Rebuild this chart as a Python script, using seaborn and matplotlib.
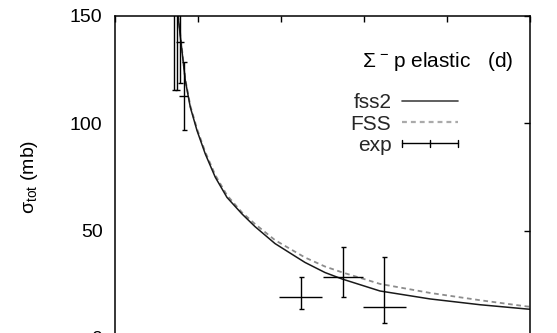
import numpy as np
import pandas as pd
import matplotlib
matplotlib.use("Agg")
import matplotlib.pyplot as plt
import seaborn as sns
from matplotlib.lines import Line2D
from matplotlib.legend_handler import HandlerBase

# ---------------- data ----------------
# model curves: momentum (MeV/c) vs total cross section (mb)
p_curve = [168, 176, 184.8, 190.8, 198.9, 208.9, 220.9, 235.0, 253.1, 268.8,
           292.9, 313.0, 329.1, 353.2, 373.7, 419.5, 479.8, 540.1, 596.7, 600]
s_fss2 = [165, 150, 119.9, 107.5, 96.6, 85.7, 74.9, 65.5, 57.8, 51.9,
          44.0, 39.1, 35.2, 30.5, 27.5, 21.9, 18.2, 15.5, 13.5, 13.4]
s_FSS = [165, 151, 120.5, 108.2, 97.4, 86.6, 75.9, 66.5, 58.5, 53.1,
         45.6, 41.1, 37.5, 33.3, 30.6, 25.2, 21.0, 17.6, 14.7, 14.6]

# experimental points
p_exp = [171.1, 174.8, 178.4, 182.8, 323.9, 374.5, 424.7]
s_exp = [170.0, 155.0, 137.7, 112.9, 19.1, 28.5, 14.6]
s_lo = [115.5, 115.5, 119.0, 96.9, 13.5, 19.2, 7.1]
s_hi = [225.0, 195.0, 156.0, 128.6, 28.4, 42.5, 37.8]
p_err = [2.5, 2.5, 5.0, 5.5, 25.7, 24.1, 26.2]

y_ticks = [0, 50, 100, 150]
x_ticks = [100, 200, 300, 400, 500, 600]
legend_labels = ["fss2", "FSS", "exp"]
title_text = "Σ$^{\\,-\\,}$p elastic   (d)"
y_label = "σ$_{\\mathrm{tot}}$ (mb)"

# ---------------- style ----------------
sns.set_theme(style="white")
plt.rcParams["font.family"] = ["Liberation Sans", "DejaVu Sans"]
plt.rcParams["mathtext.fontset"] = "custom"
plt.rcParams["mathtext.rm"] = "Liberation Sans"
plt.rcParams["mathtext.it"] = "Liberation Sans:italic"
plt.rcParams["mathtext.bf"] = "Liberation Sans:bold"
plt.rcParams["mathtext.sf"] = "Liberation Sans"

W, H = 557, 333
fig = plt.figure(figsize=(W / 100, H / 100), dpi=100)
ax = fig.add_axes([115 / W, 1 - 338 / H, 414.7 / W, 322 / H])

df = pd.DataFrame({"p": p_curve, "fss2": s_fss2, "FSS": s_FSS})
sns.lineplot(data=df, x="p", y="FSS", ax=ax, color="#8c8c8c", lw=1.3,
             linestyle=(0, (2.6, 2.0)), sort=False, estimator=None)
sns.lineplot(data=df, x="p", y="fss2", ax=ax, color="#1a1a1a", lw=1.1,
             sort=False, estimator=None)

pe = np.array(p_exp)
se = np.array(s_exp)
yerr = [se - np.array(s_lo), np.array(s_hi) - se]
ax.errorbar(pe, se, yerr=yerr, fmt="none", ecolor="black", elinewidth=1.0,
            capsize=1.8, capthick=1.0)
ax.errorbar(pe, se, xerr=p_err, fmt="none", ecolor="black", elinewidth=1.0,
            capsize=0)

ax.set_xlim(100, 600)
ax.set_ylim(0, 150)
ax.set_xticks(x_ticks)
ax.set_yticks(y_ticks)
ax.tick_params(direction="in", top=True, right=True, length=4, width=1,
               labelsize=14, pad=9, colors="black")
ax.tick_params(axis="x", labelbottom=False)
for sp in ax.spines.values():
    sp.set_linewidth(1.1)
    sp.set_color("black")
ax.set_xlabel("")
ax.set_ylabel(y_label, fontsize=14, color="black")
ax.yaxis.set_label_coords(-0.181, 0.5)


class HandlerXErr(HandlerBase):
    def create_artists(self, legend, orig_handle, xdescent, ydescent,
                       width, height, fontsize, trans):
        y = height / 2 - ydescent
        x0 = -xdescent
        x1 = -xdescent + width
        xm = (x0 + x1) / 2
        c = 2.4
        arts = [
            Line2D([x0, x1], [y, y], color="black", lw=1.0),
            Line2D([x0, x0], [y - c, y + c], color="black", lw=1.0),
            Line2D([x1, x1], [y - c, y + c], color="black", lw=1.0),
            Line2D([xm, xm], [y - c, y + c], color="black", lw=1.0),
        ]
        for a in arts:
            a.set_transform(trans)
        return arts


h1 = Line2D([], [], color="#444444", lw=1.2)
h2 = Line2D([], [], color="#aaaaaa", lw=1.6, linestyle=(0, (2.2, 1.8)))
h3 = Line2D([], [], color="black")
leg = ax.legend([h1, h2, h3], legend_labels, handler_map={h3: HandlerXErr()},
                loc="center right", bbox_to_anchor=(458 / W, 1 - 124 / H),
                bbox_transform=fig.transFigure, frameon=False, markerfirst=False,
                handlelength=2.7, handletextpad=0.5, labelspacing=0.1,
                borderpad=0, borderaxespad=0, fontsize=15)

fig.text(513.3 / W, 1 - 66.7 / H, title_text, ha="right", va="baseline",
         fontsize=15, color="black")

fig.savefig("out.png", dpi=100)
